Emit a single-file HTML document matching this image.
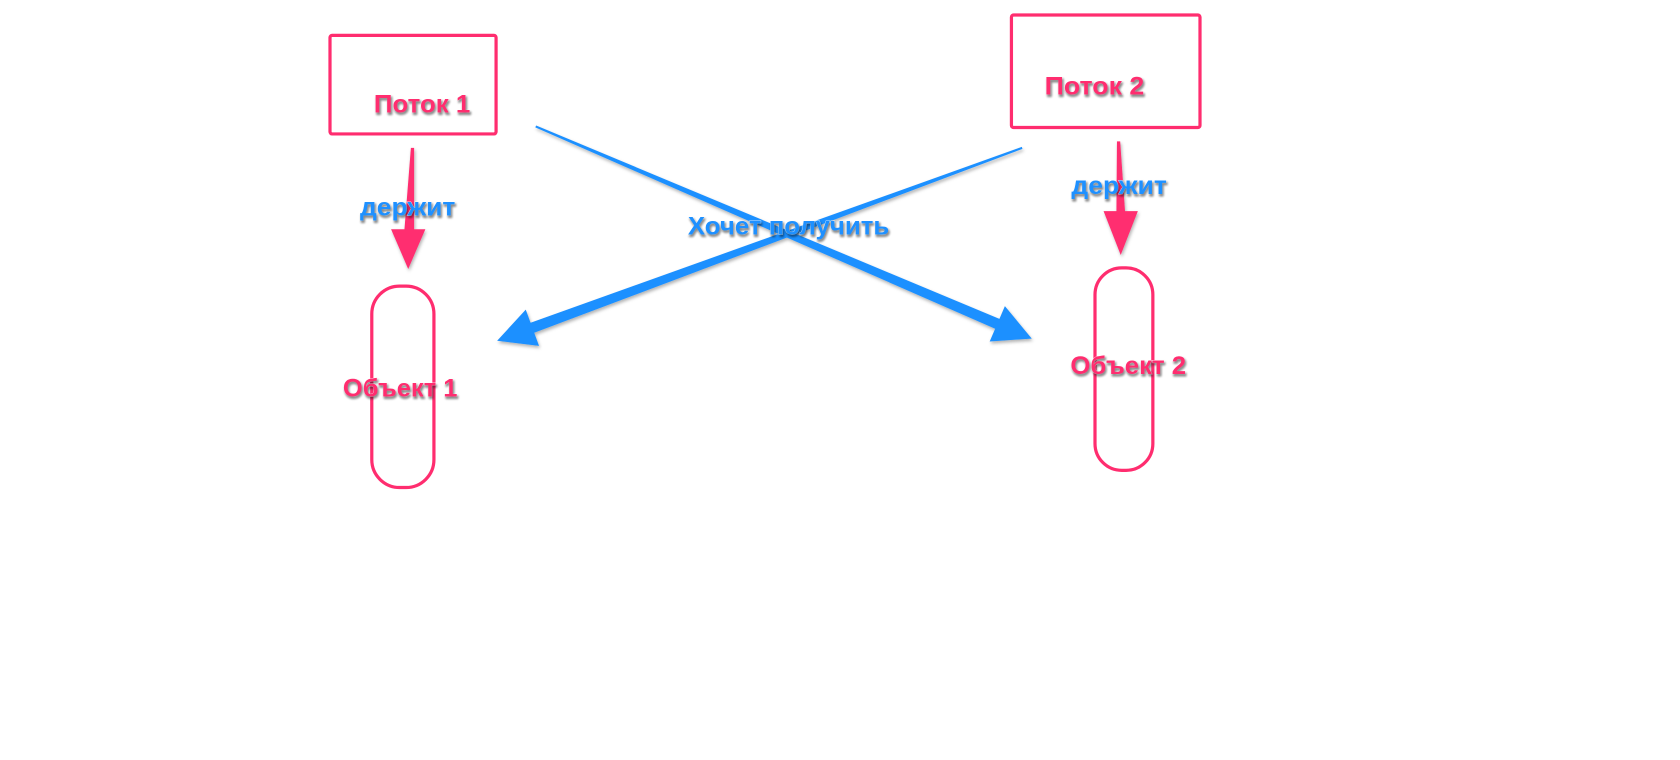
<!DOCTYPE html>
<html><head><meta charset="utf-8"><style>
html,body{margin:0;padding:0;background:#fff;width:1680px;height:760px;overflow:hidden}
svg{display:block}
text{font-family:"Liberation Sans",sans-serif;font-weight:bold;font-size:23px;text-shadow:1px 2px 2px rgba(0,0,0,0.45);stroke:#fff;stroke-width:0.6px;paint-order:stroke}
.p{fill:#ff2d6f}.b{fill:#1e90ff}
</style></head><body>
<svg width="1680" height="760" viewBox="0 0 1568 709.3" preserveAspectRatio="none">
<defs><filter id="sh" x="-10%" y="-10%" width="120%" height="130%"><feDropShadow dx="1" dy="2" stdDeviation="1.5" flood-color="#000" flood-opacity="0.3"/></filter></defs>
<g fill="none" stroke="#ff2d6f" stroke-width="3">
<rect x="308" y="33" width="155" height="92" rx="2"/>
<rect x="944" y="14" width="176" height="105" rx="2"/>
<rect x="347" y="267" width="58" height="188" rx="26"/>
<rect x="1022" y="250" width="54" height="189" rx="25"/>
</g>
<g filter="url(#sh)">
<polygon fill="#1e90ff" points="499.6,118.9 928.8,306.8 923.7,318.7 963,316 937.9,285.7 932.8,297.6 500.4,117.1"/>
<polygon fill="#1e90ff" points="953.7,137.1 495.2,301.2 490.7,289 464,318 503.1,322.8 498.6,310.6 954.3,138.9"/>
<polygon fill="#ff2d6f" points="383.5,138 386.5,138 386.5,214 397,214 381,251 365,214 377.5,214"/>
<polygon fill="#ff2d6f" points="1042.5,132 1045.5,132 1050,197 1062,197 1046,238 1030,197 1042,197"/>
</g>
<text class="p" x="349" y="105" textLength="90" lengthAdjust="spacingAndGlyphs">Поток 1</text>
<text class="p" x="975" y="88" textLength="93" lengthAdjust="spacingAndGlyphs">Поток 2</text>
<text class="p" x="320" y="370" textLength="107" lengthAdjust="spacingAndGlyphs">Объект 1</text>
<text class="p" x="999" y="349" textLength="108" lengthAdjust="spacingAndGlyphs">Объект 2</text>
<text class="b" x="336" y="201" textLength="89" lengthAdjust="spacingAndGlyphs">держит</text>
<text class="b" x="1000" y="181" textLength="89" lengthAdjust="spacingAndGlyphs">держит</text>
<text class="b" x="642" y="219" textLength="188" lengthAdjust="spacingAndGlyphs">Хочет получить</text>
</svg>
</body></html>
